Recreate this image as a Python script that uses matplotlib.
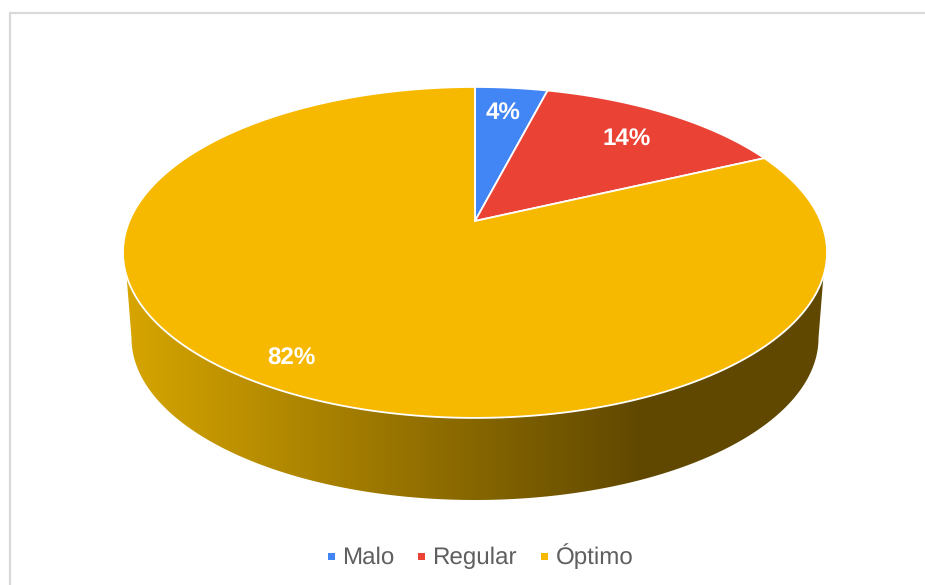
import numpy as np
import matplotlib
matplotlib.use("Agg")
import matplotlib.pyplot as plt
from matplotlib.colors import LinearSegmentedColormap
from matplotlib.patches import Polygon, Rectangle

plt.rcParams['font.family'] = ['Liberation Sans', 'DejaVu Sans']
plt.rcParams['text.hinting'] = 'none'

categories = ["Malo", "Regular", "Óptimo"]
values = [4, 14, 82]
colors = ["#4285f4", "#ea4335", "#f7b900"]

# pie geometry in figure pixels, the disc is seen in perspective
CX, CY = 475.0, 221.0
A, B, K = 345.6, 159.5, 0.19


def project(theta, r=1.0):
    # theta in radians, clockwise from 12 o'clock
    d = 1 + K * r * np.cos(theta)
    return CX + A * r * np.sin(theta) / d, CY - B * r * np.cos(theta) / d


def rim_at(y):
    # the two x values of the top ellipse at a given height
    ey = (87 + 418) / 2
    dx = 352 * np.sqrt(1 - ((y - ey) / 165.5) ** 2)
    return 475 - dx, 475 + dx


fig = plt.figure(figsize=(9.25, 5.85), dpi=100)
ax = fig.add_axes([0, 0, 1, 1])

# side wall: front part of the top rim down to a smaller ellipse below
wall_y = 275.0
left, right = rim_at(wall_y)
t = np.linspace(0, np.pi, 200)
top_x = 475 + 352 * np.cos(t)
top_y = 252.5 + 165.5 * np.sin(t)
keep = top_y >= wall_y
bot_x = 475 + 343.5 * np.cos(t[::-1])
bot_y = 338 + 162 * np.sin(t[::-1])
wall = np.column_stack([np.r_[top_x[keep], bot_x], np.r_[top_y[keep], bot_y]])

shade = LinearSegmentedColormap.from_list("shade", ["#d6a500", "#604800", "#604800"])
grad = np.interp(np.arange(925), [125, 640, 925], [0, 0.5, 1]).reshape(1, -1)
img = ax.imshow(grad, cmap=shade, vmin=0, vmax=1, extent=[0, 925, 585, 0], aspect="auto", zorder=1)
img.set_clip_path(Polygon(wall, closed=True, transform=ax.transData))

# top of the pie, one polygon per slice
start = 0.0
total = sum(values)
for v, c in zip(values, colors):
    end = start + v / total * 2 * np.pi
    th = np.linspace(start, end, 300)
    x, y = project(th)
    pts = np.column_stack([np.r_[CX, x], np.r_[CY, y]])
    ax.add_patch(Polygon(pts, closed=True, facecolor=c, edgecolor="white", linewidth=1.3, zorder=2))
    start = end

label_pos = [(503.5, 113), (627, 139), (291, 359)]
for v, (lx, ly) in zip(values, label_pos):
    ax.text(lx, ly, f"{v}%", color="white", fontsize=17.4, fontweight="bold", ha="center", va="center", zorder=3)

# legend
marker_x = [331, 421, 544]
for name, c, mx in zip(categories, colors, marker_x):
    ax.add_patch(Rectangle((mx - 3.5, 552.5), 7, 7, facecolor=c, edgecolor="none", zorder=3))
    ax.text(mx + 11.5, 564, name, color="#5f5f5f", fontsize=17.4, ha="left", va="baseline", zorder=3)

# chart frame, runs off the right and bottom edges
ax.plot([10, 10, 925], [585, 13, 13], color="#d9d9d9", lw=1.6, zorder=0, solid_joinstyle="miter")

ax.set_xlim(0, 925)
ax.set_ylim(585, 0)
ax.axis("off")
fig.savefig("out.png", dpi=100, facecolor="white")
